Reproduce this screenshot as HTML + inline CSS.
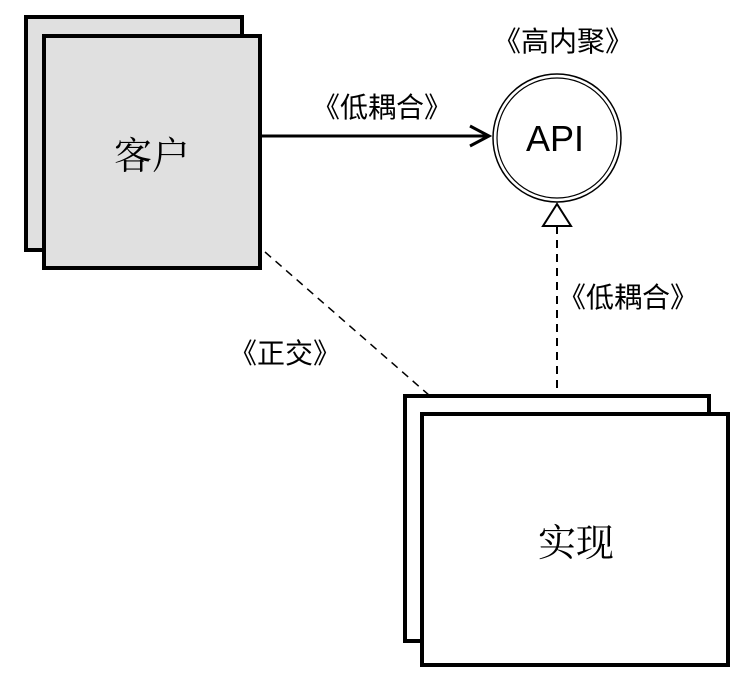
<!DOCTYPE html>
<html><head><meta charset="utf-8"><style>
html,body{margin:0;padding:0;background:#fff;}
svg{display:block;}
text{font-family:"Liberation Sans","Noto Sans CJK SC",sans-serif;fill:#000;}
.serif{font-family:"Noto Serif CJK SC","Liberation Serif",serif;}
</style></head><body>
<svg width="748" height="686" viewBox="0 0 748 686" xmlns="http://www.w3.org/2000/svg">
<rect x="26" y="17" width="216" height="233" fill="#e0e0e0" stroke="#000" stroke-width="4"/>
<rect x="44" y="36" width="216" height="232" fill="#e0e0e0" stroke="#000" stroke-width="4"/>
<text x="152" y="169" font-size="38" text-anchor="middle" class="serif">客户</text>
<line x1="262" y1="136" x2="488" y2="136" stroke="#000" stroke-width="3"/>
<polyline points="470,126 489,136 470,146" fill="none" stroke="#000" stroke-width="3"/>
<text x="382" y="117" font-size="28" text-anchor="middle">《低耦合》</text>
<circle cx="557" cy="138" r="64" fill="#fff" stroke="#000" stroke-width="1.5"/>
<circle cx="557" cy="138" r="60" fill="none" stroke="#000" stroke-width="1.2"/>
<text x="555" y="151" font-size="36" text-anchor="middle">API</text>
<text x="563" y="51" font-size="28" text-anchor="middle">《高内聚》</text>
<polygon points="557,204 543,226 571,226" fill="#fff" stroke="#000" stroke-width="2"/>
<line x1="557" y1="226" x2="557" y2="396" stroke="#000" stroke-width="2" stroke-dasharray="8,6"/>
<text x="628" y="307" font-size="28" text-anchor="middle">《低耦合》</text>
<line x1="265" y1="252" x2="430" y2="396" stroke="#000" stroke-width="1.5" stroke-dasharray="8,6"/>
<text x="285" y="363" font-size="28" text-anchor="middle">《正交》</text>
<rect x="405" y="396" width="304" height="245" fill="#fff" stroke="#000" stroke-width="4"/>
<rect x="422" y="414" width="306" height="251" fill="#fff" stroke="#000" stroke-width="4"/>
<text x="576" y="556" font-size="38" text-anchor="middle" class="serif">实现</text>
</svg>
</body></html>
